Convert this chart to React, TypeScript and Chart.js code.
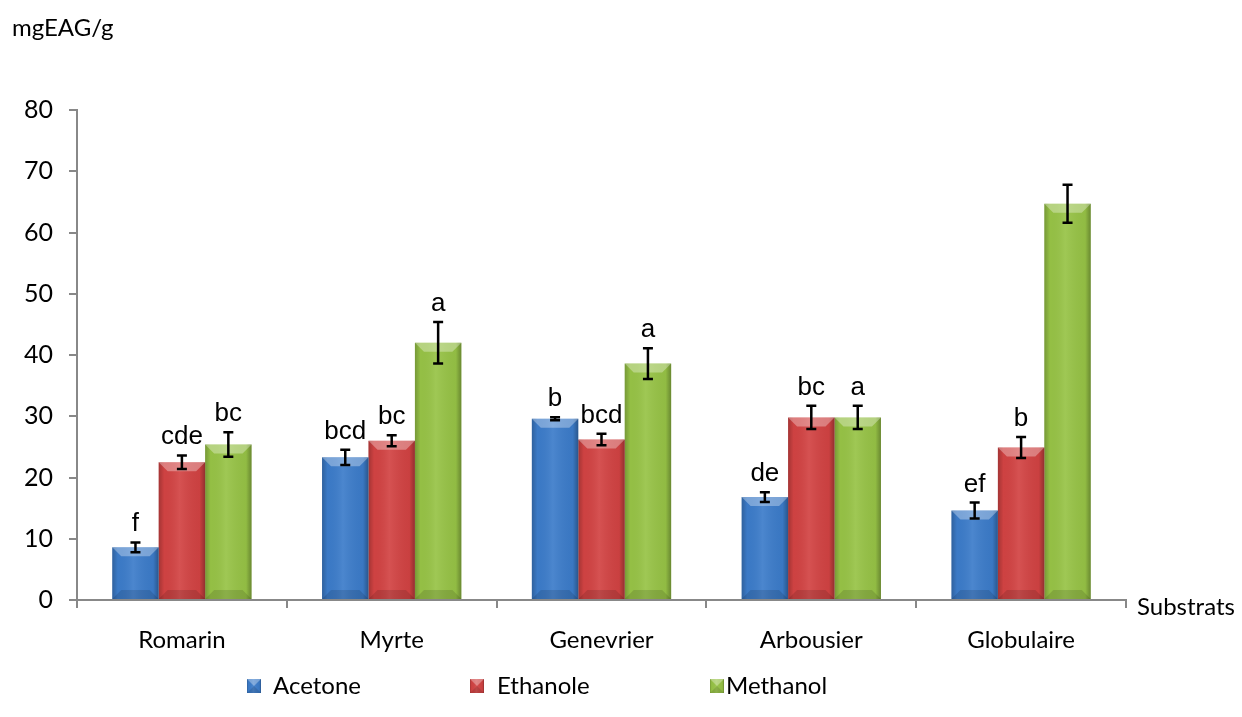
import React, { useEffect, useRef } from "react";
import { Chart, registerables } from "chart.js";

Chart.register(...registerables);

const categories = ["Romarin", "Myrte", "Genevrier", "Arbousier", "Globulaire"];
const seriesNames = ["Acetone", "Ethanole", "Methanol"];
const acetone = [8.6, 23.3, 29.6, 16.8, 14.6];
const ethanole = [22.5, 26.0, 26.2, 29.8, 24.9];
const methanol = [25.4, 42.0, 38.6, 29.8, 64.7];
const acetoneErr = [0.8, 1.25, 0.25, 0.8, 1.3];
const ethanoleErr = [1.1, 0.9, 0.95, 1.9, 1.7];
const methanolErr = [2.0, 3.4, 2.5, 1.9, 3.1];
const acetoneLetters = ["f", "bcd", "b", "de", "ef"];
const ethanoleLetters = ["cde", "bc", "bcd", "bc", "b"];
const methanolLetters = ["bc", "a", "a", "a", ""];
const yTicks = [0, 10, 20, 30, 40, 50, 60, 70, 80];

const colors = ["#3c7cca", "#d24343", "#97c346"];
const errs = [acetoneErr, ethanoleErr, methanolErr];
const letters = [acetoneLetters, ethanoleLetters, methanolLetters];

const FONT = "Lato, 'Open Sans', sans-serif";

function bevel(ctx: CanvasRenderingContext2D, left: number, top: number, right: number, bottom: number) {
  const w = right - left;
  const h = bottom - top;
  const b = Math.min(9, h / 2, w / 2);
  const g = ctx.createLinearGradient(left, 0, right, 0);
  g.addColorStop(0, "rgba(0,0,0,0.22)");
  g.addColorStop(0.12, "rgba(0,0,0,0.02)");
  g.addColorStop(0.45, "rgba(255,255,255,0.08)");
  g.addColorStop(0.88, "rgba(0,0,0,0.04)");
  g.addColorStop(1, "rgba(0,0,0,0.3)");
  ctx.fillStyle = g;
  ctx.fillRect(left, top, w, h);
  ctx.beginPath();
  ctx.moveTo(left, top);
  ctx.lineTo(right, top);
  ctx.lineTo(right - b, top + b);
  ctx.lineTo(left + b, top + b);
  ctx.closePath();
  ctx.fillStyle = "rgba(255,255,255,0.32)";
  ctx.fill();
  ctx.beginPath();
  ctx.moveTo(left, bottom);
  ctx.lineTo(right, bottom);
  ctx.lineTo(right - b, bottom - b);
  ctx.lineTo(left + b, bottom - b);
  ctx.closePath();
  ctx.fillStyle = "rgba(0,0,0,0.12)";
  ctx.fill();
}

const decorPlugin = {
  id: "decor",
  afterDatasetsDraw(chart: any) {
    const ctx: CanvasRenderingContext2D = chart.ctx;
    const yScale = chart.scales.y;
    ctx.save();
    chart.data.datasets.forEach((ds: any, di: number) => {
      const meta = chart.getDatasetMeta(di);
      meta.data.forEach((el: any) => {
        bevel(ctx, el.x - el.width / 2, el.y, el.x + el.width / 2, el.base);
      });
    });
    chart.data.datasets.forEach((ds: any, di: number) => {
      const meta = chart.getDatasetMeta(di);
      meta.data.forEach((el: any, i: number) => {
        const v = ds.data[i];
        const e = errs[di][i];
        const yt = yScale.getPixelForValue(v + e);
        const yb = yScale.getPixelForValue(v - e);
        ctx.strokeStyle = "#000";
        ctx.lineWidth = 2.5;
        ctx.beginPath();
        ctx.moveTo(el.x, yt);
        ctx.lineTo(el.x, yb);
        ctx.moveTo(el.x - 5, yt);
        ctx.lineTo(el.x + 5, yt);
        ctx.moveTo(el.x - 5, yb);
        ctx.lineTo(el.x + 5, yb);
        ctx.stroke();
        const t = letters[di][i];
        if (t) {
          ctx.fillStyle = "#000";
          ctx.font = "26px 'Liberation Sans', Arial, sans-serif";
          ctx.textAlign = "center";
          ctx.textBaseline = "alphabetic";
          ctx.fillText(t, el.x, yt - 11);
        }
      });
    });
    ctx.restore();
  },
  afterDraw(chart: any) {
    const ctx: CanvasRenderingContext2D = chart.ctx;
    const area = chart.chartArea;
    ctx.save();
    ctx.fillStyle = "#000";
    ctx.font = `24px ${FONT}`;
    ctx.textBaseline = "middle";
    ctx.textAlign = "left";
    ctx.fillText("mgEAG/g", 12, 28);
    ctx.fillText("Substrats", area.right + 11, area.bottom + 7);
    const sq = [247, 470, 710];
    const tx = [273, 497, 726];
    const ly = 686;
    seriesNames.forEach((n, i) => {
      ctx.fillStyle = colors[i];
      ctx.fillRect(sq[i], ly - 7, 14, 14);
      bevel(ctx, sq[i], ly - 7, sq[i] + 14, ly + 7);
      ctx.fillStyle = "#000";
      ctx.fillText(n, tx[i], ly);
    });
    ctx.restore();
  },
};

export default function App() {
  const ref = useRef<HTMLCanvasElement | null>(null);
  useEffect(() => {
    document.body.style.margin = "0";
    const canvas = ref.current!;
    const chart = new Chart(canvas, {
      type: "bar",
      data: {
        labels: categories,
        datasets: [
          { label: seriesNames[0], data: acetone, backgroundColor: colors[0] },
          { label: seriesNames[1], data: ethanole, backgroundColor: colors[1] },
          { label: seriesNames[2], data: methanol, backgroundColor: colors[2] },
        ],
      },
      options: {
        animation: false,
        responsive: false,
        maintainAspectRatio: false,
        devicePixelRatio: 1,
        layout: { padding: { left: 0, right: 116, top: 110, bottom: 0 } },
        datasets: { bar: { categoryPercentage: 0.664, barPercentage: 1 } },
        plugins: { legend: { display: false }, tooltip: { enabled: false } },
        scales: {
          x: {
            offset: true,
            grid: { offset: true, drawOnChartArea: false, drawTicks: true, tickLength: 8, color: "#888", lineWidth: 2 },
            border: { display: true, color: "#888", width: 2 },
            ticks: { color: "#000", font: { family: FONT, size: 24 }, padding: 18 },
            afterFit: (s: any) => { s.height = 117; },
          },
          y: {
            min: 0,
            max: 80,
            afterBuildTicks: (s: any) => { s.ticks = yTicks.map((v) => ({ value: v })); },
            grid: { drawOnChartArea: false, drawTicks: true, tickLength: 8, color: "#888", lineWidth: 2 },
            border: { display: true, color: "#888", width: 2 },
            ticks: { color: "#000", font: { family: FONT, size: 25 }, padding: 16 },
            afterFit: (s: any) => { s.width = 77; },
          },
        },
      },
      plugins: [decorPlugin],
    });
    return () => chart.destroy();
  }, []);
  return (
    <div style={{ width: 1242, height: 717, background: "#fff" }}>
      <canvas ref={ref} width={1242} height={717} style={{ display: "block" }} />
    </div>
  );
}
